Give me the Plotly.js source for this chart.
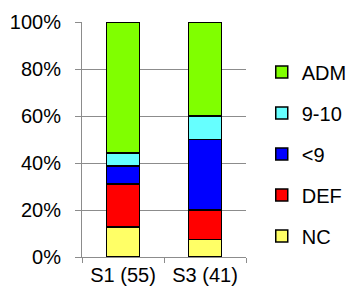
<!DOCTYPE html>
<html>
<head>
<meta charset="utf-8">
<script src="https://cdn.plot.ly/plotly-3.0.1.min.js"></script>
<style>html,body{margin:0;padding:0;background:#fff}#chart{width:349px;height:291px}</style>
</head>
<body>
<div id="chart"></div>
<script>
const categories = ["S1 (55)", "S3 (41)"];
const seriesNames = ["NC", "DEF", "<9", "9-10", "ADM"];
const ncValues = [12.7, 7.4];
const defValues = [18.4, 12.5];
const lt9Values = [7.6, 30.1];
const nineTenValues = [5.5, 9.9];
const admValues = [55.8, 40.1];
const seriesColors = ["#FFFF66", "#FF0000", "#0000FF", "#66FFFF", "#80FF00"];
const yTickVals = [0, 20, 40, 60, 80, 100];
const yTickText = ["0%", "20%", "40%", "60%", "80%", "100%"];

const seriesValues = [ncValues, defValues, lt9Values, nineTenValues, admValues];
const traces = seriesNames.map((name, i) => ({
  type: "bar",
  name: name,
  x: categories,
  y: seriesValues[i],
  width: 0.4,
  legendgroup: name,
  legendrank: seriesNames.length - i,
  marker: { color: seriesColors[i], line: { color: "#000", width: 1.5 } },
  hoverinfo: "none"
}));

const layout = {
  width: 349, height: 291,
  margin: { l: 82, r: 103, t: 22, b: 34, pad: 0, autoexpand: false },
  barmode: "stack",
  paper_bgcolor: "#fff", plot_bgcolor: "#fff",
  font: { family: "Liberation Sans, Arial, sans-serif", size: 20, color: "#000" },
  showlegend: true,
  legend: {
    xref: "container", yref: "container",
    x: 0.75, xanchor: "left", y: 0.82, yanchor: "top",
    traceorder: "grouped", tracegroupgap: 12, maxheight: 1,
    font: { size: 20, color: "#000" },
    bgcolor: "rgba(0,0,0,0)", borderwidth: 0
  },
  xaxis: {
    type: "category",
    showline: true, linecolor: "#8c8c8c", linewidth: 1,
    ticks: "outside", tickson: "boundaries", ticklen: 5, tickcolor: "#8c8c8c",
    showgrid: false, zeroline: false, tickangle: 0,
    tickfont: { size: 20 }
  },
  yaxis: {
    range: [0, 100], tickvals: yTickVals, ticktext: yTickText,
    showline: true, linecolor: "#8c8c8c", linewidth: 1,
    ticks: "outside", ticklen: 6, tickcolor: "#8c8c8c",
    showgrid: true, gridcolor: "#8c8c8c", gridwidth: 1,
    zeroline: false, ticklabelstandoff: 10,
    tickfont: { size: 20 }
  }
};

Plotly.newPlot("chart", traces, layout, { staticPlot: true, displayModeBar: false });
</script>
</body>
</html>
